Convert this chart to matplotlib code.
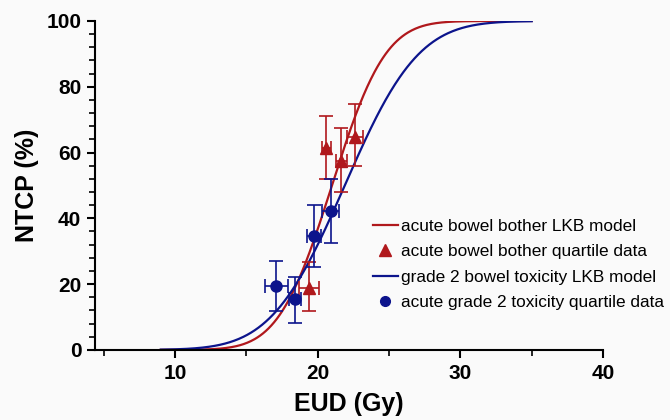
import numpy as np
import matplotlib
matplotlib.use('Agg')
import matplotlib.pyplot as plt
from matplotlib.lines import Line2D
from matplotlib.ticker import MultipleLocator
from math import erf, sqrt

plt.rcParams['font.family'] = ['Liberation Sans', 'DejaVu Sans']

# ── LKB model parameters ──
TD50_BOTHER = 21.0
M_BOTHER = 0.14
TD50_TOX = 21.9
M_TOX = 0.185
EUD_MIN, EUD_MAX = 9.0, 35.0

# ── quartile data: acute bowel bother (triangles) ──
bother_eud = [20.6, 21.65, 22.6, 19.4]
bother_ntcp = [61.3, 57.4, 64.8, 18.7]
bother_yerr_lo = [9.4, 9.5, 8.9, 7.0]
bother_yerr_hi = [9.9, 10.0, 10.0, 8.0]
bother_xerr = [0.3, 0.4, 0.55, 0.7]

# ── quartile data: acute grade 2 toxicity (circles) ──
tox_eud = [17.1, 18.4, 19.75, 20.9]
tox_ntcp = [19.3, 15.4, 34.7, 42.3]
tox_yerr_lo = [7.6, 7.3, 9.6, 9.9]
tox_yerr_hi = [7.6, 6.9, 9.2, 9.7]
tox_xerr = [0.8, 0.42, 0.47, 0.57]

labels = ['acute bowel bother LKB model', 'acute bowel bother quartile data',
          'grade 2 bowel toxicity LKB model', 'acute grade 2 toxicity quartile data']

RED = '#B0181C'
BLUE = '#0C148C'


def lkb(d, td50, m):
    t = (d - td50) / (m * td50)
    return 100 * 0.5 * (1 + np.vectorize(erf)(t / sqrt(2)))


eud = np.linspace(EUD_MIN, EUD_MAX, 400)

fig = plt.figure(figsize=(6.7, 4.2), dpi=100, facecolor='#fafafa')
ax = fig.add_axes([0.142, 0.167, 0.758, 0.783])
ax.set_facecolor('#fafafa')

ax.plot(eud, lkb(eud, TD50_BOTHER, M_BOTHER), color=RED, lw=1.6, zorder=2)
ax.errorbar(bother_eud, bother_ntcp, yerr=[bother_yerr_lo, bother_yerr_hi],
            xerr=bother_xerr, fmt='^', color=RED, ms=8.5, elinewidth=1.2,
            capsize=5, capthick=1.2, zorder=3)
ax.plot(eud, lkb(eud, TD50_TOX, M_TOX), color=BLUE, lw=1.6, zorder=2)
ax.errorbar(tox_eud, tox_ntcp, yerr=[tox_yerr_lo, tox_yerr_hi],
            xerr=tox_xerr, fmt='o', color=BLUE, ms=8, elinewidth=1.2,
            capsize=5, capthick=1.2, zorder=3)

ax.set_xlim(4.4, 40)
ax.set_ylim(0, 100)
ax.xaxis.set_major_locator(MultipleLocator(10))
ax.xaxis.set_minor_locator(MultipleLocator(5))
ax.yaxis.set_major_locator(MultipleLocator(20))
ax.yaxis.set_minor_locator(MultipleLocator(4))
for s in ['top', 'right']:
    ax.spines[s].set_visible(False)
for s in ['left', 'bottom']:
    ax.spines[s].set_linewidth(1.5)
ax.tick_params(which='major', length=6, width=1.5, labelsize=15, pad=4)
ax.tick_params(which='minor', length=4, width=1.2)
for lab in ax.get_xticklabels() + ax.get_yticklabels():
    lab.set_fontweight('bold')

ax.set_xlabel('EUD (Gy)', fontsize=18, fontweight='bold', labelpad=7)
ax.set_ylabel('NTCP (%)', fontsize=18, fontweight='bold', labelpad=5)

handles = [Line2D([], [], color=RED, lw=1.6),
           Line2D([], [], color=RED, marker='^', ms=8.5, ls='none'),
           Line2D([], [], color=BLUE, lw=1.6),
           Line2D([], [], color=BLUE, marker='o', ms=7, ls='none')]
fig.legend(handles, labels, loc='lower left', bbox_to_anchor=(373 / 670, 1 - 310 / 420),
           frameon=False, fontsize=12.4, handlelength=1.45, handletextpad=0.2,
           labelspacing=0.6, borderpad=0, borderaxespad=0)

fig.savefig('out.png', dpi=100, facecolor=fig.get_facecolor())
